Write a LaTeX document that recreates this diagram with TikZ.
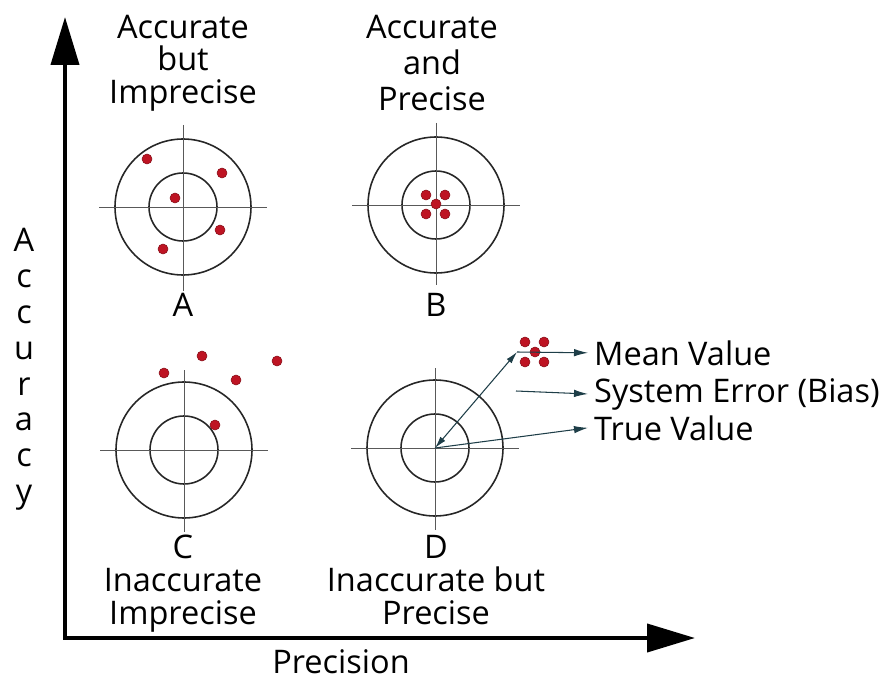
\documentclass[tikz,border=0pt]{standalone}
\usepackage{fontspec}
\setmainfont{Open Sans}
\usetikzlibrary{arrows.meta}
\definecolor{hitred}{RGB}{190,20,35}
\definecolor{pointcol}{RGB}{30,62,72}
\tikzset{
  axisline/.style={line width=0.08cm, line join=miter},
  ring/.style={draw=black!85, line width=0.9pt},
  cross/.style={draw=black!65, line width=0.5pt},
  hit/.style={fill=hitred, draw=hitred!70!black, line width=0.3pt},
  bigtext/.style={font=\fontsize{18.5}{21}\selectfont, inner sep=0pt, align=center},
  legend/.style={font=\fontsize{18.5}{21}\selectfont},
  pointer/.style={draw=pointcol, line width=0.6pt, -{Latex[length=2.8mm,width=1.5mm]}},
  twopointer/.style={draw=pointcol, line width=0.6pt, {Latex[length=2.4mm,width=1.3mm]}-{Latex[length=2.4mm,width=1.3mm]}}
}
\begin{document}
\begin{tikzpicture}[x=0.02cm, y=-0.02cm]
\useasboundingbox (0,0) rectangle (883,679);

% axes
\draw[axisline, {Triangle[length=0.96cm,width=0.56cm]}-{Triangle[length=0.96cm,width=0.56cm]}] (65,17) -- (65,638) -- (695,638);
\node[bigtext, font=\fontsize{18.5}{20.4}\selectfont, anchor=north] (accuracy) at (24,228) {A\\c\\c\\u\\r\\a\\c\\y};
\node[bigtext, anchor=base] (precision) at (341,673) {Precision};

% target centres
\coordinate (tA) at (183,207);
\coordinate (tB) at (436,205);
\coordinate (tC) at (184,450);
\coordinate (tD) at (435,448);

% targets
\draw[ring] (tA) circle[radius=68] (tA) circle[radius=34];
\draw[cross] (tA) ++(-84,0) -- ++(168,0) (tA) ++(0,-82) -- ++(0,166);
\draw[ring] (tB) circle[radius=68] (tB) circle[radius=34];
\draw[cross] (tB) ++(-84,0) -- ++(168,0) (tB) ++(0,-82) -- ++(0,162);
\draw[ring] (tC) circle[radius=68] (tC) circle[radius=34];
\draw[cross] (tC) ++(-84,0) -- ++(168,0) (tC) ++(0,-80) -- ++(0,162);
\draw[ring] (tD) circle[radius=68] (tD) circle[radius=34];
\draw[cross] (tD) ++(-84,0) -- ++(168,0) (tD) ++(0,-80) -- ++(0,162);

% hits
\path[hit] (147,159) circle[radius=5] (222,173) circle[radius=5] (175,198) circle[radius=5]
  (220,230) circle[radius=5] (163,249) circle[radius=5];
\path[hit] (426,195) circle[radius=5] (445,195) circle[radius=5] (436,204) circle[radius=5]
  (426,214) circle[radius=5] (445,214) circle[radius=5];
\path[hit] (164,373) circle[radius=5] (202,356) circle[radius=5] (236,380) circle[radius=5]
  (277,361) circle[radius=5] (215,425) circle[radius=5];
\path[hit] (525,342) circle[radius=5] (544,342) circle[radius=5] (535,352) circle[radius=5]
  (525,362) circle[radius=5] (544,362) circle[radius=5];

% labels
\node[bigtext, font=\fontsize{18.5}{18.4}\selectfont, anchor=north] (topA) at (183,15) {Accurate\\but\\Imprecise};
\node[bigtext, font=\fontsize{18.5}{20.4}\selectfont, anchor=north] (topB) at (432,15) {Accurate\\and\\Precise};
\node[bigtext, anchor=north] (lblA) at (183,293) {A};
\node[bigtext, anchor=north] (lblB) at (436,293) {B};
\node[bigtext, font=\fontsize{18.5}{18.8}\selectfont, anchor=north] (lblC) at (183,535) {C\\Inaccurate\\Imprecise};
\node[bigtext, font=\fontsize{18.5}{18.8}\selectfont, anchor=north] (lblD) at (436,535) {D\\Inaccurate but\\Precise};

% legend
\coordinate (mean) at (517,352);
\coordinate (bias) at (516,391);
\node[legend, anchor=base west] (meanlbl) at (588,365) {Mean Value};
\node[legend, anchor=base west] (biaslbl) at (588,402) {System Error (Bias)};
\node[legend, anchor=base west] (truelbl) at (588,440) {True Value};

\draw[pointer] (mean) -- (meanlbl.west);
\draw[pointer] (bias) -- (biaslbl.west);
\draw[pointer] (tD) -- (truelbl.west);
\draw[twopointer] (tD) -- (mean);
\end{tikzpicture}
\end{document}
